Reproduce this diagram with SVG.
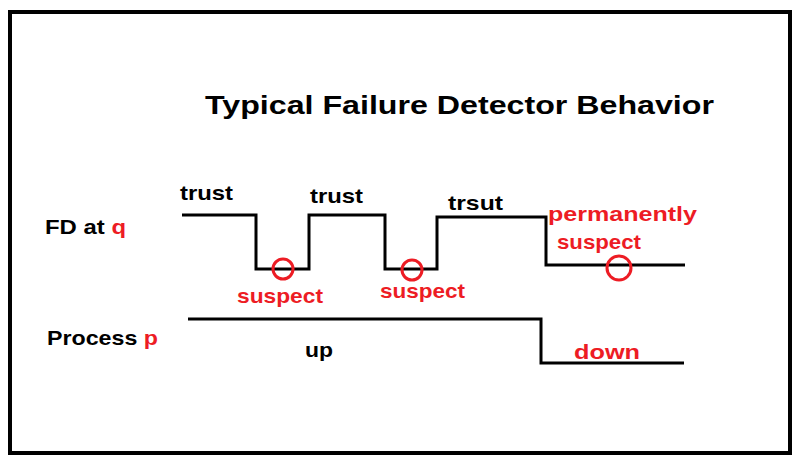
<svg xmlns="http://www.w3.org/2000/svg" width="800" height="467" viewBox="0 0 800 467">
<style>
.t{font-family:"Liberation Sans",Arial,sans-serif;font-weight:bold;font-size:21px;fill:#000}
.r{fill:#ED1C24}
.ln{fill:none;stroke:#000;stroke-width:3}
.c{fill:none;stroke:#ED1C24;stroke-width:3}
</style>
<rect x="0" y="0" width="800" height="467" fill="#fff"/>
<rect x="10" y="12" width="780" height="441" fill="none" stroke="#000" stroke-width="4"/>
<text class="t" x="205" y="114" textLength="509" lengthAdjust="spacingAndGlyphs" style="font-size:26px">Typical Failure Detector Behavior</text>
<g id="fd-label"><text class="t" x="45" y="234" textLength="81" lengthAdjust="spacingAndGlyphs">FD at <tspan class="r">q</tspan></text></g>
<g id="process-label"><text class="t" x="47" y="345" textLength="111" lengthAdjust="spacingAndGlyphs">Process <tspan class="r">p</tspan></text></g>
<g id="connectors">
<polyline class="ln" points="182,215 256,215 256,269 309,269 309,215 385,215 385,269 437,269 437,217 546,217 546,265 685,265"/>
<polyline class="ln" points="188,319 541,319 541,363 684,363"/>
</g>
<g id="circles">
<circle class="c" cx="283" cy="269" r="10"/>
<circle class="c" cx="412" cy="270" r="10"/>
<circle class="c" cx="619" cy="268" r="12"/>
</g>
<g id="labels">
<text class="t" x="180" y="200" textLength="53" lengthAdjust="spacingAndGlyphs">trust</text>
<text class="t" x="310" y="203" textLength="53" lengthAdjust="spacingAndGlyphs">trust</text>
<text class="t" x="448" y="210" textLength="55" lengthAdjust="spacingAndGlyphs">trsut</text>
<text class="t r" x="237" y="303" textLength="86" lengthAdjust="spacingAndGlyphs">suspect</text>
<text class="t r" x="380" y="298" textLength="85" lengthAdjust="spacingAndGlyphs">suspect</text>
<text class="t r" x="548" y="221" textLength="149" lengthAdjust="spacingAndGlyphs">permanently</text>
<text class="t r" x="557" y="249" textLength="84" lengthAdjust="spacingAndGlyphs">suspect</text>
<text class="t" x="305" y="357" textLength="28" lengthAdjust="spacingAndGlyphs">up</text>
<text class="t r" x="574" y="359" textLength="66" lengthAdjust="spacingAndGlyphs">down</text>
</g>
</svg>
